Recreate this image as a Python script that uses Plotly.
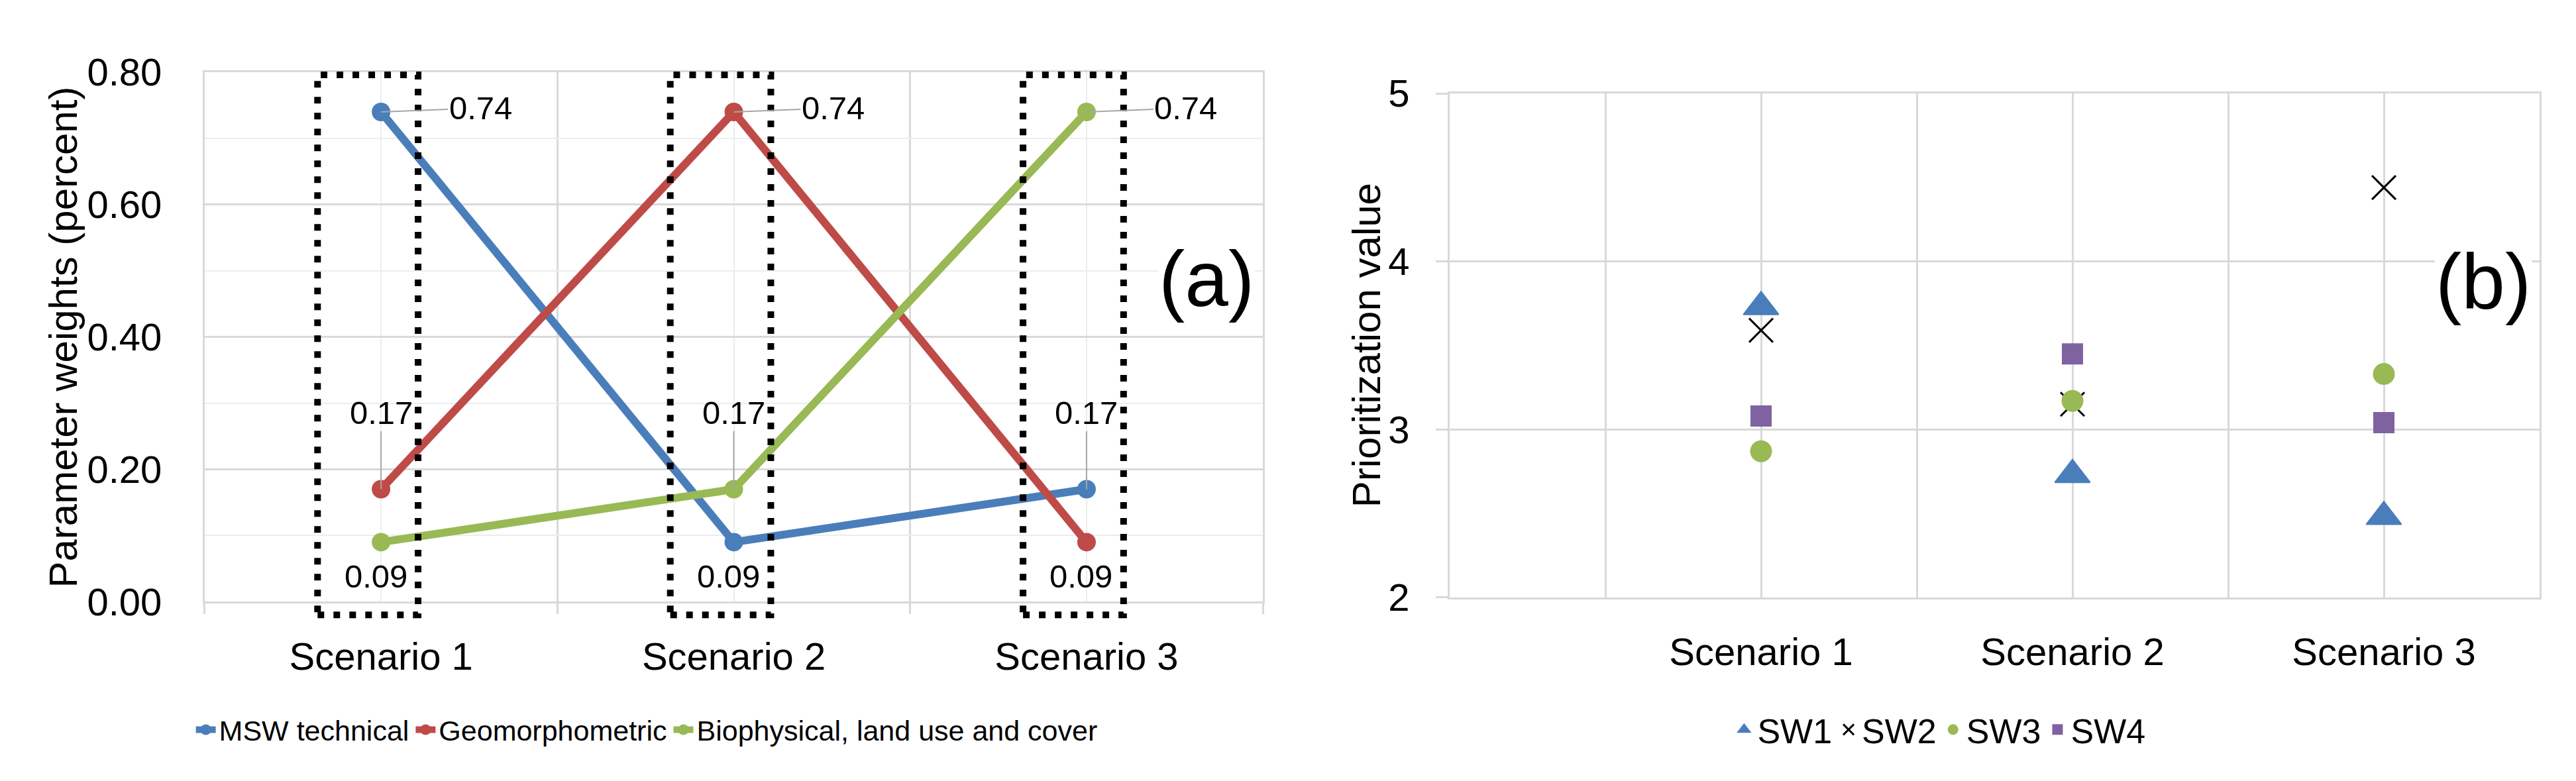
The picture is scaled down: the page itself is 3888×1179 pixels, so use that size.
import plotly.graph_objects as go

# --- Data ---

SCENARIOS = ["Scenario 1", "Scenario 2", "Scenario 3"]

# (a) parameter weights per scenario
MSW_TECHNICAL = [0.74, 0.09, 0.17]
GEOMORPHOMETRIC = [0.17, 0.74, 0.09]
BIOPHYSICAL = [0.09, 0.17, 0.74]
WEIGHT_TICKS = [0.0, 0.2, 0.4, 0.6, 0.8]

# (b) prioritization value per scenario
SW1 = [3.73, 2.73, 2.48]
SW2 = [3.59, 3.15, 4.44]
SW3 = [2.87, 3.17, 3.33]
SW4 = [3.08, 3.45, 3.04]
PRIORITY_TICKS = [2, 3, 4, 5]

# --- Theme ---

_FONT = "Liberation Sans, Arial, sans-serif"
_BLUE = "#4A7EBB"
_RED = "#BE4B48"
_GREEN = "#98B954"
_PURPLE = "#7F63A1"
_GRID = "#D9D9D9"
_GRID_LIGHT = "#EDEDED"
_LEADER = "#A6A6A6"

X_POS = list(range(1, len(SCENARIOS) + 1))

fig = go.Figure()

# --- (a) line chart ---
for name, values, color in [
    ("MSW technical", MSW_TECHNICAL, _BLUE),
    ("Geomorphometric", GEOMORPHOMETRIC, _RED),
    ("Biophysical, land use and cover", BIOPHYSICAL, _GREEN),
]:
    fig.add_trace(go.Scatter(
        x=X_POS, y=values, name=name,
        mode="lines+markers",
        line=dict(color=color, width=12),
        marker=dict(color=color, size=28),
        xaxis="x", yaxis="y", legend="legend",
    ))

# data labels: highest to the right, middle above with leader, lowest below
annotations = []
for i, xp in enumerate(X_POS):
    lo, mid, hi = sorted([MSW_TECHNICAL[i], GEOMORPHOMETRIC[i], BIOPHYSICAL[i]])
    common = dict(xref="x", yref="y", font=dict(size=49, color="black"))
    annotations.append(dict(x=xp, y=hi, text=f"{hi:.2f}", showarrow=True,
                            arrowhead=0, arrowwidth=2, arrowcolor=_LEADER,
                            ax=150, ay=-6, **common))
    annotations.append(dict(x=xp, y=mid, text=f"{mid:.2f}", showarrow=True,
                            arrowhead=0, arrowwidth=2, arrowcolor=_LEADER,
                            ax=0, ay=-116, **common))
    annotations.append(dict(x=xp, y=lo, text=f"{lo:.2f}", showarrow=False,
                            xshift=-8, yshift=-52, **common))

# dotted boxes around each scenario
shapes = []
for xp in X_POS:
    shapes.append(dict(
        type="rect", xref="x", yref="y domain",
        x0=xp - 0.18, x1=xp + 0.105, y0=-0.025, y1=0.995,
        line=dict(color="black", width=10, dash="10px,14px"),
        layer="above",
    ))

# --- (b) scatter chart ---
for name, values, marker in [
    ("SW1", SW1, dict(symbol="triangle-up", size=46, color=_BLUE,
                      line=dict(color=_BLUE, width=2))),
    ("SW2", SW2, dict(symbol="x-thin", size=36, color="black",
                      line=dict(color="black", width=3))),
    ("SW3", SW3, dict(symbol="circle", size=33, color=_GREEN)),
    ("SW4", SW4, dict(symbol="square", size=32, color=_PURPLE)),
]:
    fig.add_trace(go.Scatter(
        x=X_POS, y=values, name=name, mode="markers",
        marker=marker, xaxis="x2", yaxis="y2", legend="legend2",
    ))

# axis titles and panel tags
annotations += [
    dict(text="Parameter weights (percent)", textangle=-90,
         xref="paper", yref="y domain", x=0.0226, y=0.5,
         xanchor="center", yanchor="middle",
         showarrow=False, font=dict(size=60, color="black")),
    dict(text="Prioritization value", textangle=-90,
         xref="paper", yref="y2 domain", x=0.5285, y=0.5,
         xanchor="center", yanchor="middle",
         showarrow=False, font=dict(size=60, color="black")),
    dict(text="(a)", xref="paper", yref="paper", x=0.4663, y=0.659,
         xanchor="center", yanchor="middle",
         showarrow=False, bgcolor="white", font=dict(size=118, color="black")),
    dict(text="(b)", xref="paper", yref="paper", x=0.9619, y=0.6556,
         xanchor="center", yanchor="middle",
         showarrow=False, bgcolor="white", font=dict(size=118, color="black")),
]

_axis_common = dict(
    showline=True, mirror=True, linecolor=_GRID, linewidth=3,
    zeroline=False, tickfont=dict(size=58, color="black"),
)

fig.update_layout(
    width=3888, height=1179,
    margin=dict(l=0, r=0, t=0, b=0),
    paper_bgcolor="white", plot_bgcolor="white",
    font=dict(family=_FONT, color="black"),
    showlegend=True,
    xaxis=dict(
        domain=[0.0774, 0.4882], range=[0.5, 3.5],
        tickvals=X_POS, ticktext=SCENARIOS,
        showgrid=True, gridcolor=_GRID_LIGHT, gridwidth=2, ticks="",
        ticklabelstandoff=30,
        minor=dict(tick0=0.5, dtick=1, showgrid=True, gridcolor=_GRID,
                   gridwidth=3, ticks="outside", ticklen=16,
                   tickcolor=_GRID, tickwidth=3),
        **_axis_common,
    ),
    yaxis=dict(
        domain=[0.2214, 0.9389], range=[0, 0.8],
        tickvals=WEIGHT_TICKS, tickformat=".2f",
        showgrid=True, gridcolor=_GRID, gridwidth=3, ticks="",
        ticklabelstandoff=50,
        minor=dict(dtick=0.1, showgrid=True, gridcolor=_GRID_LIGHT,
                   gridwidth=2),
        **_axis_common,
    ),
    xaxis2=dict(
        domain=[0.5607, 0.9838], range=[0, 3.5], anchor="y2",
        tickvals=X_POS, ticktext=SCENARIOS,
        showgrid=True, gridcolor=_GRID, gridwidth=3, ticks="",
        ticklabelstandoff=30,
        minor=dict(tick0=0, dtick=0.5, showgrid=True, gridcolor=_GRID,
                   gridwidth=3),
        **_axis_common,
    ),
    yaxis2=dict(
        domain=[0.2273, 0.9101], range=[2, 5], anchor="x2",
        tickvals=PRIORITY_TICKS,
        showgrid=True, gridcolor=_GRID, gridwidth=3,
        ticks="outside", ticklen=18, tickcolor=_GRID, tickwidth=3,
        ticklabelstandoff=28,
        **_axis_common,
    ),
    legend=dict(orientation="h", x=0.249, xanchor="center",
                y=0.048, yanchor="middle", font=dict(size=43),
                bgcolor="rgba(0,0,0,0)"),
    legend2=dict(orientation="h", x=0.751, xanchor="center",
                 y=0.048, yanchor="middle", font=dict(size=52),
                 bgcolor="rgba(0,0,0,0)"),
    annotations=annotations,
    shapes=shapes,
)

fig.write_html("out.html")
